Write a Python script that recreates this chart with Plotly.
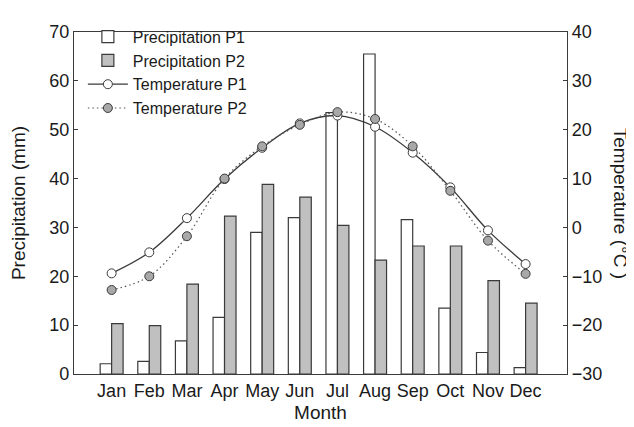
import plotly.graph_objects as go

months = ["Jan", "Feb", "Mar", "Apr", "May", "Jun", "Jul", "Aug", "Sep", "Oct", "Nov", "Dec"]
month_pos = [1, 2, 3, 4, 5, 6, 7, 8, 9, 10, 11, 12]
precip_p1 = [2.1, 2.6, 6.8, 11.6, 29.0, 32.0, 53.5, 65.5, 31.6, 13.5, 4.4, 1.3]
precip_p2 = [10.3, 9.9, 18.4, 32.3, 38.8, 36.2, 30.4, 23.3, 26.2, 26.2, 19.1, 14.5]
temp_p1 = [-9.4, -5.1, 1.9, 9.9, 16.3, 21.3, 22.9, 20.6, 15.3, 8.2, -0.6, -7.5]
temp_p2 = [-12.8, -10.0, -1.8, 10.0, 16.6, 21.0, 23.6, 22.2, 16.6, 7.5, -2.7, -9.5]

FONT = "Arial, Liberation Sans, sans-serif"
DARK = "#3a3a3a"

fig = go.Figure()
fig.add_trace(go.Bar(x=month_pos, y=precip_p1, name="Precipitation P1",
                     marker=dict(color="white", line=dict(color=DARK, width=1.2))))
fig.add_trace(go.Bar(x=month_pos, y=precip_p2, name="Precipitation P2",
                     marker=dict(color="#c0c0c0", line=dict(color=DARK, width=1.2))))
fig.add_trace(go.Scatter(x=month_pos, y=temp_p1, name="Temperature P1", yaxis="y2",
                         mode="lines+markers", line=dict(color=DARK, width=1.3, shape="spline", smoothing=1),
                         marker=dict(symbol="circle", size=9, color="white", line=dict(color=DARK, width=1))))
fig.add_trace(go.Scatter(x=month_pos, y=temp_p2, name="Temperature P2", yaxis="y2",
                         mode="lines+markers",
                         line=dict(color="#555555", width=1.2, dash="1.5px,3px", shape="spline", smoothing=1),
                         marker=dict(symbol="circle", size=9, color="#a8a8a8", line=dict(color=DARK, width=1))))

fig.update_layout(
    width=634, height=427,
    margin=dict(l=66, r=75, t=14, b=61),
    paper_bgcolor="white", plot_bgcolor="white",
    font=dict(family=FONT, size=18, color="#1a1a1a"),
    barmode="group", bargap=0.39, bargroupgap=0,
    showlegend=True,
    legend=dict(x=0.018, y=1.036, xanchor="left", yanchor="top", bgcolor="rgba(0,0,0,0)",
                font=dict(size=16), tracegroupgap=0, itemwidth=40),
    xaxis=dict(range=[0, 13.1], tickmode="array", tickvals=month_pos, ticktext=months,
               showgrid=False, zeroline=False, showline=True, linecolor=DARK, linewidth=1.2,
               mirror=True, ticks="", automargin=False,
               title=dict(text="Month", font=dict(size=19), standoff=5)),
    yaxis=dict(range=[0, 70], dtick=10, showgrid=False, zeroline=False, showline=True,
               linecolor=DARK, linewidth=1.2, ticks="inside", ticklen=4, tickcolor=DARK,
               automargin=False,
               title=dict(text="Precipitation (mm)", font=dict(size=19), standoff=36)),
    yaxis2=dict(range=[-30, 40], dtick=10, overlaying="y", side="right", showgrid=False,
                zeroline=False, showline=True, linecolor=DARK, linewidth=1.2,
                ticks="inside", ticklen=4, tickcolor=DARK, automargin=False),
    annotations=[dict(text="Temperature (°C )", xref="paper", yref="paper", x=1.11, y=0.5,
                      textangle=90, showarrow=False, font=dict(size=19, family=FONT),
                      xanchor="center", yanchor="middle")],
)

fig.write_html("out.html")
